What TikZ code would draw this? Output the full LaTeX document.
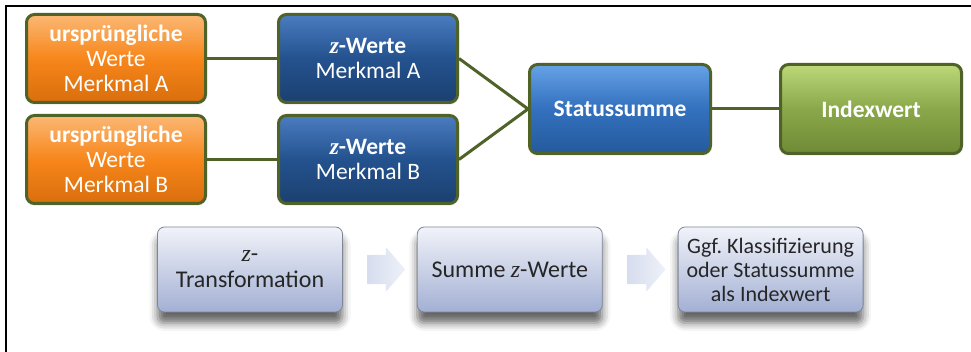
\documentclass[tikz,border=0pt]{standalone}
\usepackage{fontspec}
\setmainfont{Carlito}
\newfontfamily\zfont{Liberation Serif}
\usetikzlibrary{positioning, shapes.arrows, shadows.blur, calc}

\definecolor{oliveline}{HTML}{4F6228}
\definecolor{orgmain}{HTML}{F7861B}
\definecolor{orglight}{HTML}{FBB874}
\definecolor{orgdark}{HTML}{D96E0C}
\definecolor{zbmain}{HTML}{24528E}
\definecolor{zblight}{HTML}{4A7CC0}
\definecolor{zbdark}{HTML}{1B4070}
\definecolor{stmain}{HTML}{3370BE}
\definecolor{stlight}{HTML}{65A2E6}
\definecolor{stdark}{HTML}{255A9C}
\definecolor{ixmain}{HTML}{8AA84A}
\definecolor{ixlight}{HTML}{BCD879}
\definecolor{ixdark}{HTML}{6F8A35}
\definecolor{stepfrom}{HTML}{F1F3F9}
\definecolor{stepto}{HTML}{A3B0D4}
\definecolor{stepline}{HTML}{7E8698}
\definecolor{arrfrom}{HTML}{D6DDEE}
\definecolor{arrto}{HTML}{EEF1F9}

\newcommand{\zit}{{\zfont\itshape z}}

\begin{document}
\begin{tikzpicture}[
    x=1pt, y=1pt,
    node distance=10pt,
    topbox/.style={rectangle, draw=oliveline, line width=3pt, rounded corners=8pt,
        minimum width=179pt, minimum height=88pt, align=center, text=white,
        font=\fontsize{23.5}{25}\selectfont,
        blur shadow={shadow xshift=0pt, shadow yshift=-1pt, shadow blur radius=2pt, shadow opacity=25}},
    orgbox/.style={topbox, top color=orglight, bottom color=orgdark, middle color=orgmain},
    zbox/.style={topbox, top color=zblight, bottom color=zbdark, middle color=zbmain},
    stbox/.style={topbox, top color=stlight, bottom color=stdark, middle color=stmain},
    ixbox/.style={topbox, top color=ixlight, bottom color=ixdark, middle color=ixmain},
    stepbox/.style={rectangle, draw=stepline, line width=0.8pt, rounded corners=7pt,
        minimum width=185pt, minimum height=85pt, align=center, text=black!85,
        font=\fontsize{24}{26}\selectfont,
        shading angle=45, top color=stepfrom, bottom color=stepto,
        blur shadow={shadow xshift=0pt, shadow yshift=-11pt, shadow blur radius=8pt, shadow opacity=60}},
    chev/.style={single arrow, draw=none, inner xsep=0pt, inner ysep=14.5pt,
        minimum height=38pt, single arrow head extend=7.5pt, single arrow tip angle=98,
        left color=arrfrom, right color=arrto},
    link/.style={draw=oliveline, line width=3pt}
]

\useasboundingbox (0,0) rectangle (971,352);

% Frame
\draw[line width=2pt] (6,0) |- (971,346);

% Source values
\node[orgbox] (orgA) at (116,293.5) {{\bfseries ursprüngliche}\\Werte\\Merkmal A};
\node[orgbox, below=of orgA] (orgB) {{\bfseries ursprüngliche}\\Werte\\Merkmal B};

% z values
\node[zbox, right=70pt of orgA] (zA) {{\bfseries\zit-Werte}\\Merkmal A};
\node[zbox, right=70pt of orgB] (zB) {{\bfseries\zit-Werte}\\Merkmal B};

% Sum and index
\coordinate (zmid) at ($(zA.east)!0.5!(zB.east)$);
\node[stbox, minimum width=181pt, minimum height=89pt, right=69pt of zmid] (status) {\bfseries Statussumme};
\node[ixbox, minimum width=181pt, minimum height=89pt, right=67pt of status] (index) {\bfseries Indexwert};

% Links
\draw[link] (orgA) -- (zA);
\draw[link] (orgB) -- (zB);
\draw[link] (zA.east) -- (status.west);
\draw[link] (zB.east) -- (status.west);
\draw[link] (status) -- (index);

% Process steps
\node[stepbox] (trans) at (250,82.5) {\zit-\\Transformation};
\node[stepbox, right=74pt of trans] (sumz) {Summe \zit-Werte};
\node[stepbox, right=75pt of sumz, font=\fontsize{22}{24}\selectfont] (klass) {Ggf.\ Klassifizierung\\oder Statussumme\\als Indexwert};

\node[chev] (arrA) at ($(trans.east)!0.5!(sumz.west)$) {};
\node[chev] (arrB) at ($(sumz.east)!0.5!(klass.west)$) {};

\end{tikzpicture}
\end{document}
